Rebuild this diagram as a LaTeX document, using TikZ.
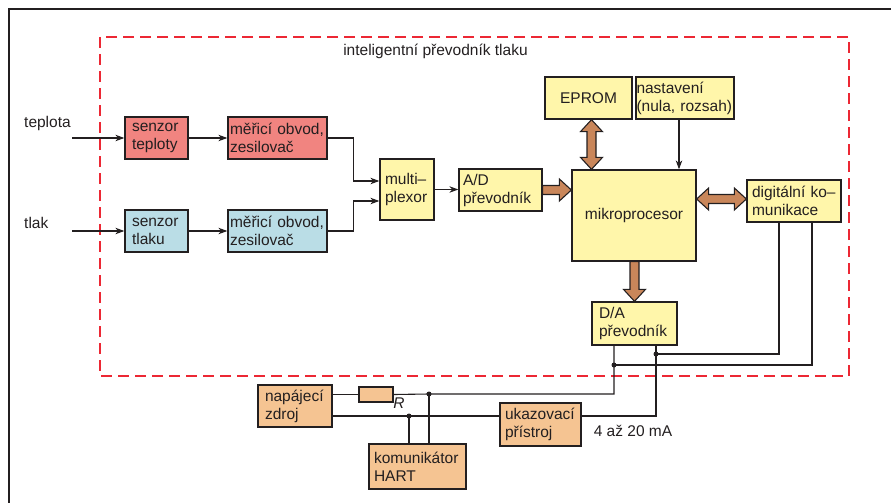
\documentclass[tikz,border=0pt]{standalone}
\usepackage{fontspec}
\setmainfont{Liberation Sans}
\usetikzlibrary{calc,arrows.meta}
\definecolor{cred}{RGB}{241,132,128}
\definecolor{cblue}{RGB}{186,221,230}
\definecolor{cyel}{RGB}{255,246,170}
\definecolor{cpeach}{RGB}{245,196,146}
\definecolor{cbrown}{RGB}{201,134,90}
\definecolor{cdash}{RGB}{236,40,52}
\definecolor{cink}{RGB}{35,31,32}
\tikzset{
  blk/.style={draw=cink, line width=1.3pt, text=cink, align=left, inner ysep=2pt,
    font=\fontsize{15.5}{18}\selectfont},
  lbl/.style={text=cink, inner sep=0pt, font=\fontsize{15.5}{18}\selectfont},
  wire/.style={draw=cink, line width=1.1pt},
  arr/.style={wire, -{Stealth[length=9pt,width=6.5pt]}},
  fat/.style={draw=cink, line width=1.1pt, fill=cbrown, line join=miter},
  dot/.style={circle, fill=cink, inner sep=0pt, minimum size=5pt},
}
\newcommand{\fatone}[2]{%
  \coordinate (faS) at #1; \coordinate (faE) at #2;
  \coordinate (faH) at ($(faE)!12pt!(faS)$);
  \filldraw[fat] ($(faS)!4.5pt!90:(faE)$) -- ($(faH)!4.5pt!90:(faE)$) -- ($(faH)!11pt!90:(faE)$) -- (faE)
   -- ($(faH)!11pt!-90:(faE)$) -- ($(faH)!4.5pt!-90:(faE)$) -- ($(faS)!4.5pt!-90:(faE)$) -- cycle;}
\newcommand{\fattwo}[2]{%
  \coordinate (faS) at #1; \coordinate (faE) at #2;
  \coordinate (faH) at ($(faE)!12pt!(faS)$);
  \coordinate (faG) at ($(faS)!12pt!(faE)$);
  \filldraw[fat] (faS) -- ($(faG)!11pt!90:(faE)$) -- ($(faG)!4.5pt!90:(faE)$) -- ($(faH)!4.5pt!90:(faE)$) -- ($(faH)!11pt!90:(faE)$) -- (faE)
   -- ($(faH)!11pt!-90:(faE)$) -- ($(faH)!4.5pt!-90:(faE)$) -- ($(faG)!4.5pt!-90:(faE)$) -- ($(faG)!11pt!-90:(faE)$) -- cycle;}
\begin{document}
\begin{tikzpicture}[x=1pt,y=-1pt]
\useasboundingbox (0,0) rectangle (891,503);
% frame
\draw[cink, line width=1.5pt] (9,503) -- (9,9) -- (891,9);
% dashed boundary
\draw[cdash, line width=2pt, dash pattern=on 11pt off 6pt] (100,37) rectangle (849,376);
\node[lbl] (title) at (435.5,51) {inteligentní převodník tlaku};
% input labels
\node[lbl, anchor=west] (lteplota) at (24,123) {teplota};
\node[lbl, anchor=west] (ltlak) at (24,223) {tlak};
\coordinate (tin) at (72,138);
\coordinate (pin) at (72,231);
% blocks
\node[blk, fill=cred, text width=49pt, inner xsep=7pt, minimum height=42pt] (st) at (156.5,138) {senzor\\teploty};
\node[blk, fill=cred, text width=95pt, inner xsep=2pt, minimum height=42pt] (mt) at (277.5,138) {měřicí obvod,\\zesilovač};
\node[blk, fill=cblue, text width=49pt, inner xsep=7pt, minimum height=42pt] (sl) at (156.5,231) {senzor\\tlaku};
\node[blk, fill=cblue, text width=95pt, inner xsep=2pt, minimum height=42pt] (ml) at (277.5,231) {měřicí obvod,\\zesilovač};
\node[blk, fill=cyel, text width=44pt, inner xsep=5pt, minimum height=61pt] (mux) at (407,189.5) {multi–\\plexor};
\node[blk, fill=cyel, text width=75pt, inner xsep=4pt, minimum height=42pt] (ad) at (500.5,190) {A/D\\převodník};
\node[blk, fill=cyel, minimum width=124pt, minimum height=91pt, align=center] (micro) at (634,215.5) {mikroprocesor};
\node[blk, fill=cyel, minimum width=87pt, minimum height=42pt, align=center] (eprom) at (588.5,98) {EPROM};
\node[blk, fill=cyel, text width=97pt, inner xsep=0.5pt, minimum height=42pt] (nast) at (685,98) {nastavení\\\mbox{(nula, rozsah)}};
\node[blk, fill=cyel, text width=84pt, inner xsep=5pt, minimum height=42pt] (dig) at (794,201) {digitální ko–\\munikace};
\node[blk, fill=cyel, text width=71pt, inner xsep=7pt, minimum height=43pt] (da) at (634.5,323.5) {D/A\\převodník};
\node[blk, fill=cpeach, text width=60pt, inner xsep=7pt, minimum height=42pt] (nap) at (295,406) {napájecí\\zdroj};
\node[blk, fill=cpeach, text width=87pt, inner xsep=5pt, minimum height=45pt] (kom) at (417.5,466.5) {komunikátor\\HART};
\node[blk, fill=cpeach, text width=71pt, inner xsep=5pt, minimum height=43pt] (uk) at (540.5,424.5) {ukazovací\\přístroj};
\node[draw=cink, line width=1.3pt, fill=cpeach, minimum width=34pt, minimum height=15pt, inner sep=0pt] (res) at (376,394.5) {};
\node[lbl, font=\fontsize{15.5}{18}\selectfont\itshape] (rl) at (399,403) {R};
\node[lbl] (ma) at (633,431) {4 až 20 mA};
% helper coordinates
\coordinate (nsA) at ($(nast.south)+(-6,0)$);
\coordinate (epA) at ($(eprom.south)+(3,0)$);
\coordinate (dgA) at ($(dig.west)+(0,-2)$);
\coordinate (muxA) at ($(mux.west)+(0,-8.5)$);
\coordinate (muxB) at ($(mux.west)+(0,11.5)$);
\coordinate (ukA) at ($(uk.east)+(0,-8.5)$);
\coordinate (ukB) at ($(uk.west)+(0,-8.5)$);
\coordinate (dgL) at ($(dig.south)+(-15,0)$);
\coordinate (dgR) at ($(dig.south)+(18,0)$);
% thin arrows
\draw[arr] (tin) -- (st.west);
\draw[arr] (pin) -- (sl.west);
\draw[arr] (st.east) -- (mt.west);
\draw[arr] (sl.east) -- (ml.west);
\draw[arr] (mt.east) -- ++(26,0) |- (muxA);
\draw[arr] (ml.east) -- ++(26,0) |- (muxB);
\draw[arr] (mux.east) -- (mux.east -| ad.west);
\draw[arr] (nsA) -- (nsA |- micro.north);
% fat arrows
\fatone{(ad.east)}{(ad.east -| micro.west)}
\fattwo{(epA)}{(epA |- micro.north)}
\fattwo{(dgA -| micro.east)}{(dgA)}
\fatone{(da.north |- micro.south)}{(da.north)}
% junctions
\coordinate (j1) at (656,354);
\coordinate (j2) at (614,365);
\coordinate (j3) at (429,394);
\coordinate (j4) at (409,416);
\node[dot] (d1) at (j1) {};
\node[dot] (d2) at (j2) {};
\node[dot] (d3) at (j3) {};
\node[dot] (d4) at (j4) {};
% wiring
\draw[wire] (dgL) |- (j1);
\draw[wire] (dgR) |- (j2);
\draw[wire] (j2 |- da.south) -- (j2) |- (j3) -- (res.east);
\draw[wire] (res.west) -- (res.west -| nap.east);
\draw[wire] (j1 |- da.south) -- (j1) |- (ukA);
\draw[wire] (ukB) -- (j4) -- (ukB -| nap.east);
\draw[wire] (j3) -- (j3 |- kom.north);
\draw[wire] (j4) -- (j4 |- kom.north);
\end{tikzpicture}
\end{document}
